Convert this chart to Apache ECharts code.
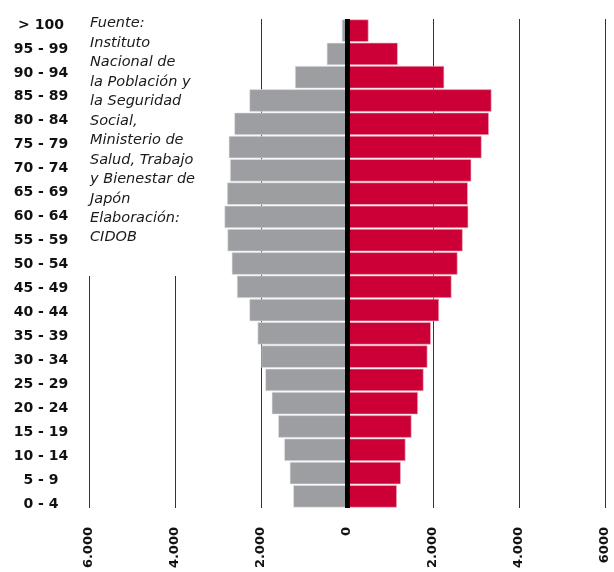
<!DOCTYPE html>
<html>
<head>
<meta charset="utf-8">
<script src="https://cdn.jsdelivr.net/npm/echarts@6/dist/echarts.min.js"></script>
<style>
html,body{margin:0;padding:0;background:#fff;}
#chart{width:614px;height:572px;}
</style>
</head>
<body>
<div id="chart"></div>
<script>
// Age groups, bottom to top
const categories = ['0 - 4','5 - 9','10 - 14','15 - 19','20 - 24','25 - 29','30 - 34','35 - 39','40 - 44','45 - 49','50 - 54','55 - 59','60 - 64','65 - 69','70 - 74','75 - 79','80 - 84','85 - 89','90 - 94','95 - 99','> 100'];
// Men (thousands), drawn to the left
const men = [1250,1330,1460,1600,1750,1900,1990,2080,2270,2560,2680,2780,2850,2790,2720,2750,2620,2270,1210,470,120];
// Women (thousands), drawn to the right
const women = [1160,1250,1360,1500,1650,1780,1870,1950,2140,2430,2570,2690,2820,2810,2890,3130,3300,3360,2260,1180,500];
// x-axis tick labels from -6000 to 6000
const tickLabels = ['6.000','4.000','2.000','0','2.000','4.000','6000'];
const sourceLines = ['Fuente:','Instituto','Nacional de','la Población y','la Seguridad','Social,','Ministerio de','Salud, Trabajo','y Bienestar de','Japón','Elaboración:','CIDOB'];

const chart = echarts.init(document.getElementById('chart'), null, {renderer:'canvas'});
const labelFont = {fontFamily:'DejaVu Sans', fontWeight:'bold', fontSize:14, color:'#111'};

chart.setOption({
  animation:false,
  backgroundColor:'#fff',
  grid:[
    {left:89, right:9, top:19, bottom:64, containLabel:false},
    {left:89, right:9, top:13, bottom:56, containLabel:false}
  ],
  xAxis:[
    {
      type:'value', gridIndex:0, min:-6000, max:6000, interval:2000,
      axisLine:{show:false}, axisTick:{show:false},
      splitLine:{show:true, lineStyle:{color:'#333', width:1}},
      axisLabel:Object.assign({
        rotate:90, margin:19,
        formatter:function(v){ return tickLabels[Math.round((v+6000)/2000)]; }
      }, labelFont, {fontSize:13})
    },
    {type:'value', gridIndex:1, min:-6000, max:6000, show:false}
  ],
  yAxis:[
    {
      type:'category', gridIndex:0, data:categories,
      axisLine:{show:false}, axisTick:{show:false}, splitLine:{show:false},
      axisLabel:{show:false}
    },
    {
      type:'category', gridIndex:1, data:categories,
      axisLine:{show:false}, axisTick:{show:false}, splitLine:{show:false},
      axisLabel:Object.assign({align:'center', margin:48}, labelFont)
    }
  ],
  series:[
    {
      name:'Hombres', type:'bar', xAxisIndex:0, yAxisIndex:0, data:men.map(v=>-v),
      barCategoryGap:'4%', barGap:'-100%',
      itemStyle:{color:'#9d9ea1', borderColor:'#e6e6e8', borderWidth:0.6},
      z:2
    },
    {
      name:'Mujeres', type:'bar', xAxisIndex:0, yAxisIndex:0, data:women,
      barCategoryGap:'4%', barGap:'-100%',
      itemStyle:{color:'#cc0036', borderColor:'#f0b8c6', borderWidth:0.6},
      z:2,
      markLine:{
        silent:true, symbol:'none', label:{show:false},
        lineStyle:{color:'#000', width:5, type:'solid'},
        data:[{xAxis:0}]
      }
    }
  ],
  graphic:[
    {type:'rect', z:50, shape:{x:84, y:0, width:124, height:276}, style:{fill:'#fff'}},
    {type:'text', z:51, left:90, top:14,
      style:{text:sourceLines.join('\n'), fontFamily:'DejaVu Sans', fontStyle:'italic', fontSize:14.5, lineHeight:19.45, fill:'#1a1a1a'}}
  ]
});
</script>
</body>
</html>
